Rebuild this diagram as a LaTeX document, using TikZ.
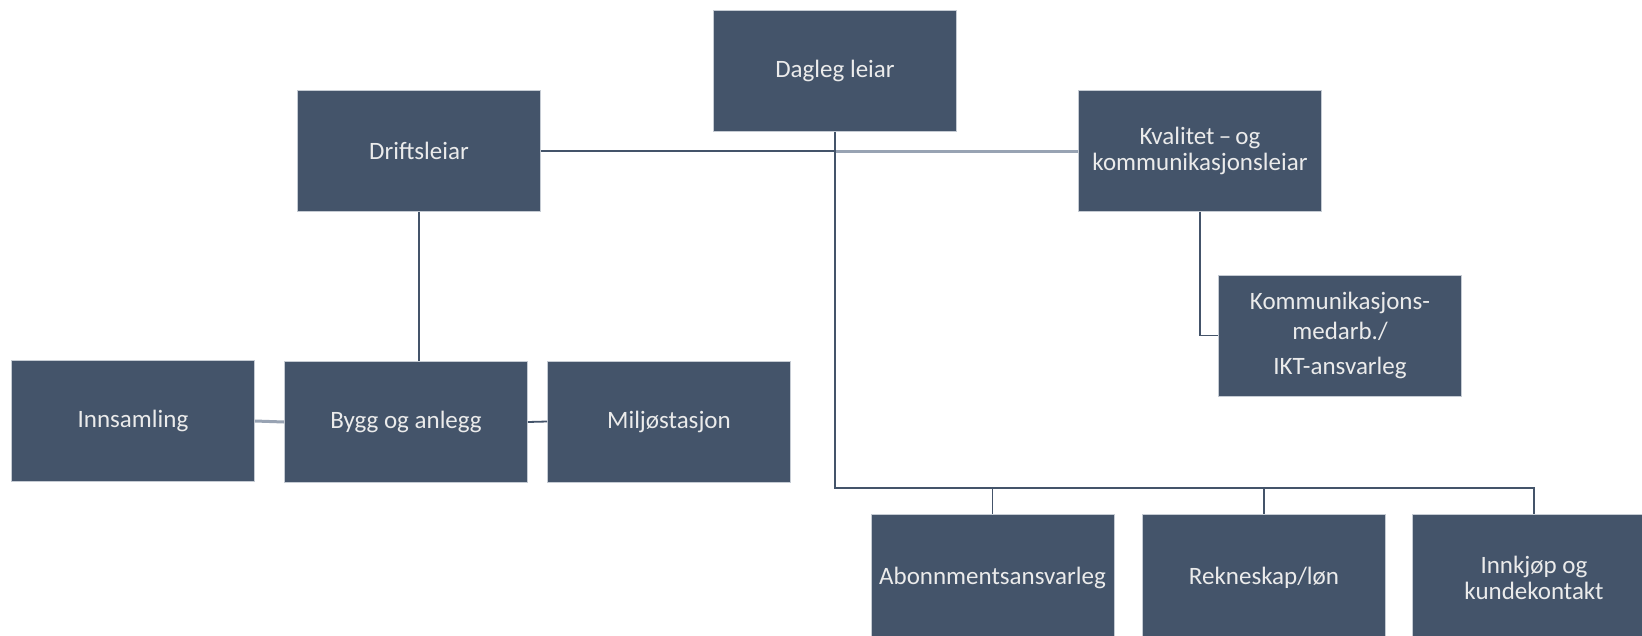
\documentclass[tikz,border=0pt]{standalone}
\usepackage{fontspec}
\setmainfont{Carlito}
\usetikzlibrary{calc}
\definecolor{boxfill}{HTML}{44546A}
\definecolor{boxline}{HTML}{C5CBD3}
\definecolor{txt}{HTML}{EBEBEB}
\definecolor{lightln}{HTML}{98A3B3}
\tikzset{
  orgbox/.style={rectangle, fill=boxfill, draw=boxline, line width=0.6pt,
    minimum width=243pt, minimum height=121pt, inner sep=2pt,
    align=center, text=txt,
    font=\fontsize{25}{26}\selectfont},
  lowbox/.style={orgbox, minimum height=128pt},
  dk/.style={draw=boxfill, line width=1.8pt},
  lt/.style={draw=lightln, line width=3pt}
}
\begin{document}
\begin{tikzpicture}[x=1pt,y=-1pt]
\useasboundingbox (0,0) rectangle (1642,635);
\clip (0,0) rectangle (1642,635);
\fill[white] (0,0) rectangle (1642,635);

\node[orgbox] (dag)   at (835,71)    {Dagleg leiar};
\node[orgbox] (drift) at (419,151)   {Driftsleiar};
\node[orgbox] (kval)  at (1200,151)  {Kvalitet\,–\,og\\kommunikasjonsleiar};
\node[orgbox, font=\fontsize{25}{30}\selectfont] (kom) at (1340,335.5) {Kommunikasjons-\\medarb./\\[5pt]IKT-ansvarleg};
\node[orgbox] (inns)  at (133,421)   {Innsamling};
\node[orgbox] (bygg)  at (406,422)   {Bygg og anlegg};
\node[orgbox] (milj)  at (669,421.5) {Miljøstasjon};
\node[lowbox] (abo)   at (992.5,578) {Abonnmentsansvarleg};
\node[lowbox] (rek)   at (1264,578)  {Rekneskap/løn};
\node[lowbox] (ink)   at (1534,578)  {Innkjøp og\\kundekontakt};

\coordinate (mid) at (drift.east -| dag.south);
\draw[dk] (drift.east) -- (mid);
\draw[lt] (mid) -- (kval.west);
\draw[dk] (dag.south) |- ($(ink.north)+(0,-26)$) -- (ink.north);
\draw[dk] (abo.north) -- ++(0,-26);
\draw[dk] (rek.north) -- ++(0,-26);
\draw[dk] (kval.south) |- (kom.west);
\draw[dk] (drift.south) -- (drift.south |- bygg.north);
\draw[lt] (inns.east) -- (bygg.west);
\draw[dk] (bygg.east) -- (milj.west);
\end{tikzpicture}
\end{document}
